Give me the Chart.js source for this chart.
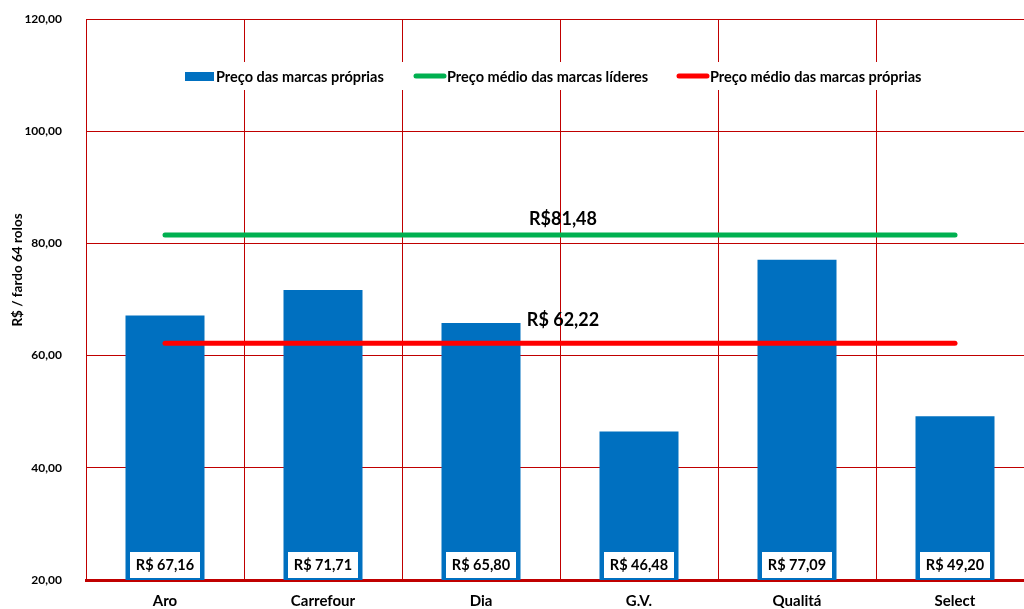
<!DOCTYPE html>
<html>
<head>
<meta charset="utf-8">
<script src="https://cdn.jsdelivr.net/npm/chart.js@4.4.0/dist/chart.umd.min.js"></script>
<style>
  html, body { margin: 0; padding: 0; overflow: hidden; background: #fff; }
</style>
</head>
<body>
<canvas id="grafico" width="1044" height="609"></canvas>
<script>
const marcas = ["Aro", "Carrefour", "Dia", "G.V.", "Qualitá", "Select"];
const precoProprias = [67.16, 71.71, 65.80, 46.48, 77.09, 49.20];
const mediaLideres = [81.48, 81.48, 81.48, 81.48, 81.48, 81.48];
const mediaProprias = [62.22, 62.22, 62.22, 62.22, 62.22, 62.22];
const yTicks = [20, 40, 60, 80, 100, 120];

const FONT = "Lato, 'Noto Sans', sans-serif";
const AZUL = "#0070C0", VERDE = "#00B050", VERMELHO = "#FF0000", GRADE = "#C00000";

const virgula = v => v.toFixed(2).replace(".", ",");

// rótulos, legenda, título do eixo e valores das médias
const extras = {
  id: "extras",
  afterDatasetsDraw(chart) {
    const ctx = chart.ctx;
    const x = chart.scales.x, y = chart.scales.y;
    ctx.save();

    // caixas brancas com o valor no pé de cada barra
    ctx.font = "bold 14.5px " + FONT;
    ctx.textAlign = "center";
    ctx.textBaseline = "middle";
    chart.getDatasetMeta(0).data.forEach((bar, i) => {
      const base = y.bottom - 2;
      ctx.fillStyle = "#fff";
      ctx.fillRect(bar.x - 35, base - 26, 70, 26);
      ctx.fillStyle = "#000";
      ctx.fillText("R$ " + virgula(precoProprias[i]), bar.x, base - 13);
    });

    // valores das linhas de média
    const meio = (x.getPixelForValue(2) + x.getPixelForValue(3)) / 2 + 3;
    ctx.font = "bold 18px " + FONT;
    ctx.fillText("R$" + virgula(mediaLideres[0]), meio, y.getPixelForValue(mediaLideres[0]) - 16);
    ctx.fillText("R$ " + virgula(mediaProprias[0]), meio, y.getPixelForValue(mediaProprias[0]) - 23);

    // título do eixo y
    ctx.save();
    ctx.translate(18, 270);
    ctx.rotate(-Math.PI / 2);
    ctx.font = "bold 13.5px " + FONT;
    ctx.fillText("R$ / fardo 64 rolos", 0, 0);
    ctx.restore();

    // legenda dentro da área do gráfico
    const ly = chart.chartArea.top + 57;
    ctx.fillStyle = "#fff";
    ctx.fillRect(178, ly - 14, 752, 28);
    ctx.font = "bold 14.5px " + FONT;
    ctx.textAlign = "left";
    ctx.fillStyle = AZUL;
    ctx.fillRect(185, ly - 4, 29, 9);
    ctx.lineCap = "round";
    ctx.lineWidth = 5;
    ctx.strokeStyle = VERDE;
    ctx.beginPath(); ctx.moveTo(416, ly); ctx.lineTo(444, ly); ctx.stroke();
    ctx.strokeStyle = VERMELHO;
    ctx.beginPath(); ctx.moveTo(679, ly); ctx.lineTo(707, ly); ctx.stroke();
    ctx.fillStyle = "#000";
    ctx.fillText("Preço das marcas próprias", 216, ly + 1);
    ctx.fillText("Preço médio das marcas líderes", 447, ly + 1);
    ctx.fillText("Preço médio das marcas próprias", 710, ly + 1);
    ctx.restore();
  }
};

new Chart(document.getElementById("grafico"), {
  data: {
    labels: marcas,
    datasets: [
      {
        type: "bar",
        label: "Preço das marcas próprias",
        data: precoProprias,
        backgroundColor: AZUL,
        barPercentage: 0.5,
        categoryPercentage: 1.0,
        order: 2
      },
      {
        type: "line",
        label: "Preço médio das marcas líderes",
        data: mediaLideres,
        borderColor: VERDE,
        borderWidth: 5,
        borderCapStyle: "round",
        pointRadius: 0,
        fill: false,
        order: 1
      },
      {
        type: "line",
        label: "Preço médio das marcas próprias",
        data: mediaProprias,
        borderColor: VERMELHO,
        borderWidth: 5,
        borderCapStyle: "round",
        pointRadius: 0,
        fill: false,
        order: 1
      }
    ]
  },
  options: {
    responsive: false,
    animation: false,
    layout: { padding: { top: 19, right: 10, bottom: 0, left: 0 } },
    plugins: {
      legend: { display: false },
      tooltip: { enabled: false }
    },
    scales: {
      x: {
        offset: true,
        grid: { offset: true, color: GRADE, lineWidth: 1, drawTicks: false },
        border: { color: GRADE, width: 3 },
        ticks: { color: "#000", padding: 12, font: { family: FONT, size: 15, weight: "bold" } },
        afterFit(s) { s.height = 29; }
      },
      y: {
        min: 20,
        max: 120,
        afterBuildTicks(s) { s.ticks = yTicks.map(v => ({ value: v })); },
        grid: { color: GRADE, lineWidth: 1, drawTicks: true, tickLength: 20, tickColor: "rgba(0,0,0,0)" },
        border: { color: GRADE, width: 1 },
        ticks: {
          color: "#000",
          padding: 4,
          font: { family: FONT, size: 12, weight: "bold" },
          callback: v => virgula(v)
        },
        afterFit(s) { s.width = 86; }
      }
    }
  },
  plugins: [extras]
});
</script>
</body>
</html>
